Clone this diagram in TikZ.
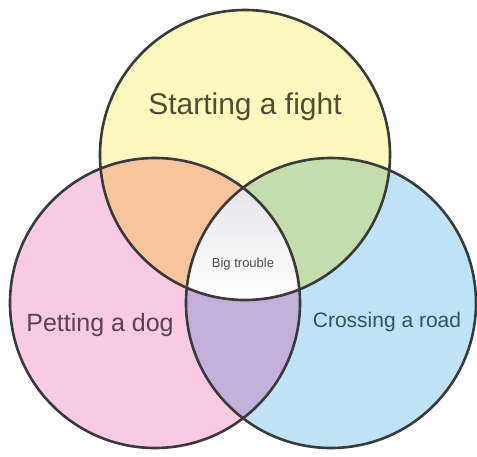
\documentclass[tikz,border=0pt]{standalone}
\usepackage{fontspec}
\setmainfont{Liberation Sans}
\definecolor{cyel}{HTML}{FFF8BE}
\definecolor{cpink}{HTML}{F9CAE3}
\definecolor{cblue}{HTML}{BEE3F6}
\definecolor{corange}{HTML}{F8C49C}
\definecolor{cgreen}{HTML}{C4DDAC}
\definecolor{cpurple}{HTML}{C3B0DA}
\definecolor{ctop}{HTML}{E6E6EA}
\definecolor{cline}{HTML}{3A3A3A}
\definecolor{tyel}{HTML}{4E4E34}
\definecolor{tpink}{HTML}{5E4054}
\definecolor{tblue}{HTML}{36525F}
\begin{document}
\begin{tikzpicture}[x=1pt,y=-1pt,
  ring/.style={circle,draw=cline,line width=2.6pt,minimum size=290pt,inner sep=0pt},
  lab/.style={inner sep=0pt,anchor=center}]
\useasboundingbox (0,0) rectangle (477,456);
\coordinate (T) at (245,155);
\coordinate (L) at (155,303);
\coordinate (R) at (331,303);
% base fills
\fill[cyel] (T) circle (145pt);
\fill[cpink] (L) circle (145pt);
\fill[cblue] (R) circle (145pt);
% pairwise
\begin{scope}\clip (T) circle (145pt); \fill[corange] (L) circle (145pt); \end{scope}
\begin{scope}\clip (T) circle (145pt); \fill[cgreen] (R) circle (145pt); \end{scope}
\begin{scope}\clip (L) circle (145pt); \fill[cpurple] (R) circle (145pt); \end{scope}
% triple
\begin{scope}
  \clip (T) circle (145pt);
  \clip (L) circle (145pt);
  \clip (R) circle (145pt);
  \shade[top color=ctop,bottom color=white] (170,185) rectangle (320,300);
\end{scope}
% outlines
\node[ring] (topc) at (T) {};
\node[ring] (leftc) at (L) {};
\node[ring] (rightc) at (R) {};
% labels
\node[lab,text=tyel,font=\fontsize{30}{32}\selectfont] (lfight) at (245,107) {Starting a fight};
\node[lab,text=tpink,font=\fontsize{25}{27}\selectfont] (ldog) at (100,325) {Petting a dog};
\node[lab,text=tblue,font=\fontsize{21}{23}\selectfont] (lroad) at (387,322) {Crossing a road};
\node[lab,text=black!70,font=\fontsize{13}{14}\selectfont] (lmid) at (243,264) {Big trouble};
\end{tikzpicture}
\end{document}
